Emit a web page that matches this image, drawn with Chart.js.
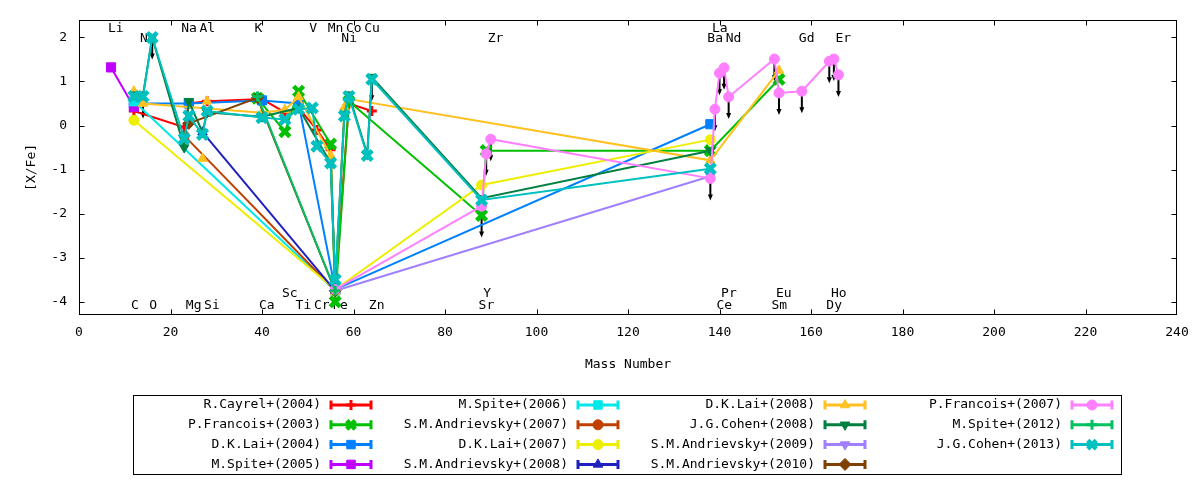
<!DOCTYPE html>
<html><head><meta charset="utf-8">
<script src="https://cdn.jsdelivr.net/npm/chart.js@4.4.0/dist/chart.umd.min.js"></script>
<style>html,body{margin:0;padding:0;background:#fff;}canvas{display:block;}</style>
</head><body>
<canvas id="c" width="1200" height="480"></canvas>
<script>
// ---- element positions (mass number) and label rows ----
const elementNames = ['Li','C','N','O','Na','Mg','Al','Si','K','Ca','Sc','Ti','V','Cr','Mn','Fe','Ni','Co','Cu','Zn','Sr','Y','Zr','Ba','La','Ce','Pr','Nd','Sm','Eu','Gd','Dy','Ho','Er'];
const elementMass  = [7,12,14,16,23,24,27,28,39,40,45,48,51,52,55,56,58,59,63,64,88,89,90,138,139,140,141,142,152,153,158,164,165,166];
const labelRow     = [0,3,1,3,0,3,0,3,0,3,2,3,0,3,0,3,1,0,0,3,3,2,1,1,0,3,2,1,3,2,1,3,2,1];
const labelRowValue = [2.20, 1.98, -3.82, -4.09];

const xTicks = [0,20,40,60,80,100,120,140,160,180,200,220,240];
const yTicks = [-4,-3,-2,-1,0,1,2];

// ---- series ----
const cayrel2004El  = ['C','Na','Mg','Si','Ca','Sc','Ti','Cr','Mn','Fe','Co','Zn'];
const cayrel2004Val = [0.33,-0.04,0.50,0.55,0.60,0.30,0.40,-0.10,-0.55,-3.72,0.50,0.33];

const francois2003El  = ['K','Sc','Ti','Mn','Fe','Co','Sr','Y','Ba','Eu'];
const francois2003Val = [0.62,-0.14,0.78,-0.42,-4.00,0.55,-2.04,-0.57,-0.57,1.05];

const lai2004El  = ['C','Mg','Ca','Ti','Fe','Ba'];
const lai2004Val = [0.50,0.50,0.57,0.50,-3.72,0.03];

const spite2005El  = ['Li','C'];
const spite2005Val = [1.32,0.42];

const spite2006El  = ['C','Fe'];
const spite2006Val = [0.55,-3.75];

const andrievsky2007El  = ['Na','Fe'];
const andrievsky2007Val = [-0.23,-3.75];

const lai2007El  = ['C','Fe','Sr','Ba'];
const lai2007Val = [0.12,-3.72,-1.35,-0.32];

const andrievsky2008El  = ['Al','Fe'];
const andrievsky2008Val = [-0.15,-3.75];

const lai2008El  = ['C','N','Ca','Sc','Ti','Mn','Fe','Ni','Co','Ba','Eu'];
const lai2008Val = [0.78,0.50,0.29,0.36,0.65,-0.68,-3.78,0.41,0.60,-0.79,1.25];
const lai2008ExtraEl  = ['Al','Si'];
const lai2008ExtraVal = [-0.75,0.55];

const cohen2008El  = ['C','N','O','Na','Mg','Al','Si','Ca','Ti','Mn','Fe','Ni','Co','Cu','Zn','Sr','Ba'];
const cohen2008Val = [0.70,0.70,2.00,-0.50,0.55,-0.15,0.30,0.20,0.40,-0.85,-3.60,0.25,0.70,-0.65,1.10,-1.65,-0.57];

const andrievsky2009El  = ['Fe','Ba'];
const andrievsky2009Val = [-3.75,-1.15];

const andrievsky2010El  = ['Mg','K','Fe'];
const andrievsky2010Val = [0.05,0.63,-3.75];

const francois2007El  = ['Fe','Sr','Y','Zr','Ba','La','Ce','Pr','Nd','Sm','Eu','Gd','Dy','Ho','Er'];
const francois2007Val = [-3.72,-1.83,-0.64,-0.31,-1.20,0.37,1.19,1.31,0.65,1.51,0.74,0.78,1.46,1.51,1.15];

const spite2012El  = ['K','Fe'];
const spite2012Val = [0.66,-3.75];

const cohen2013El  = ['C','N','O','Na','Mg','Al','Si','Ca','Sc','Ti','V','Cr','Mn','Fe','Ni','Co','Cu','Zn','Sr','Ba'];
const cohen2013Val = [0.66,0.66,2.00,-0.30,0.22,-0.20,0.33,0.18,0.14,0.37,0.40,-0.47,-0.85,-3.50,0.22,0.66,-0.68,1.05,-1.69,-0.98];

// upper limits (arrow start values)
const limitEl  = ['N','O','Zn','Sr','Y','Zr','Ba','La','Ce','Pr','Nd','Sm','Eu','Gd','Dy','Ho','Er'];
const limitVal = [0.66,2.00,1.05,-2.04,-0.64,-0.31,-1.20,0.37,1.19,1.31,0.65,1.51,0.74,0.78,1.46,1.51,1.15];

// ---- build ----
const massOf = {};
elementNames.forEach((n,i)=>{ massOf[n] = elementMass[i]; });
const pts = (els, vals) => els.map((e,i)=>({x: massOf[e], y: vals[i]}));

const seriesDefs = [
  ['R.Cayrel+(2004)', cayrel2004El, cayrel2004Val, '#ff0000', 'cross', 0],
  ['P.Francois+(2003)', francois2003El, francois2003Val, '#00c000', 'crossRot', 0],
  ['D.K.Lai+(2004)', lai2004El, lai2004Val, '#0080ff', 'rect', 0],
  ['M.Spite+(2005)', spite2005El, spite2005Val, '#c000ff', 'rect', 0],
  ['M.Spite+(2006)', spite2006El, spite2006Val, '#00e8e8', 'rect', 0],
  ['S.M.Andrievsky+(2007)', andrievsky2007El, andrievsky2007Val, '#c04000', 'circle', 0],
  ['D.K.Lai+(2007)', lai2007El, lai2007Val, '#eeee00', 'circle', 0],
  ['S.M.Andrievsky+(2008)', andrievsky2008El, andrievsky2008Val, '#2020c0', 'triangle', 0],
  ['D.K.Lai+(2008)', lai2008El, lai2008Val, '#ffc020', 'triangle', 0],
  ['J.G.Cohen+(2008)', cohen2008El, cohen2008Val, '#008040', 'triangle', 180],
  ['S.M.Andrievsky+(2009)', andrievsky2009El, andrievsky2009Val, '#a080ff', 'triangle', 180],
  ['S.M.Andrievsky+(2010)', andrievsky2010El, andrievsky2010Val, '#804000', 'rectRot', 0],
  ['P.Francois+(2007)', francois2007El, francois2007Val, '#ff80ff', 'circle', 0],
  ['M.Spite+(2012)', spite2012El, spite2012Val, '#00c060', 'cross', 0],
  ['J.G.Cohen+(2013)', cohen2013El, cohen2013Val, '#00c0c0', 'crossRot', 0]
];

const markerRadius = {cross: 5, crossRot: 7, rect: 6.5, circle: 5, triangle: 5.5, rectRot: 6};
const markerBorder = {cross: 3, crossRot: 4.5, rect: 1, circle: 1, triangle: 1, rectRot: 1};

const datasets = [];
seriesDefs.forEach(d => {
  datasets.push({
    label: d[0], data: pts(d[1], d[2]), showLine: true, tension: 0,
    borderColor: d[3], backgroundColor: d[3], borderWidth: 2,
    pointStyle: d[4], pointRotation: d[5], pointRadius: markerRadius[d[4]],
    pointBorderWidth: markerBorder[d[4]], pointBackgroundColor: d[3], pointBorderColor: d[3],
    pointHoverRadius: 0
  });
  if (d[0] === 'D.K.Lai+(2008)') {
    datasets.push({
      label: 'D.K.Lai+(2008)', hideInLegend: true, data: pts(lai2008ExtraEl, lai2008ExtraVal), showLine: false,
      borderColor: d[3], backgroundColor: d[3], pointStyle: d[4], pointRadius: markerRadius[d[4]], pointBorderWidth: 1,
      pointBackgroundColor: d[3], pointBorderColor: d[3]
    });
  }
});
datasets.forEach((ds,i)=>{ ds.order = datasets.length - i; });

const FONT = '13px "DejaVu Sans Mono"';
const ARROW_LEN = 0.5;

const framePlugin = {
  id: 'frame',
  beforeDatasetsDraw(chart) {
    const {ctx, chartArea: a, scales: {x, y}} = chart;
    const L = Math.round(a.left)+0.5, R = Math.round(a.right)-0.5, T = Math.round(a.top)+0.5, B = Math.round(a.bottom)-0.5;
    ctx.save();
    ctx.strokeStyle = '#000'; ctx.lineWidth = 1;
    ctx.strokeRect(L, T, R-L, B-T);
    ctx.beginPath();
    xTicks.forEach(v => { const p = Math.min(R, Math.round(x.getPixelForValue(v))+0.5);
      ctx.moveTo(p, B); ctx.lineTo(p, B-5); ctx.moveTo(p, T); ctx.lineTo(p, T+5); });
    yTicks.forEach(v => { const p = Math.round(y.getPixelForValue(v))+0.5;
      ctx.moveTo(L, p); ctx.lineTo(L+5, p); ctx.moveTo(R, p); ctx.lineTo(R-5, p); });
    ctx.stroke();
    // element labels
    ctx.font = FONT; ctx.fillStyle = '#000'; ctx.textAlign = 'left'; ctx.textBaseline = 'middle';
    elementNames.forEach((n,i) => {
      ctx.fillText(n, x.getPixelForValue(elementMass[i]) - 3, y.getPixelForValue(labelRowValue[labelRow[i]]));
    });
    // upper-limit arrows
    ctx.strokeStyle = '#000'; ctx.fillStyle = '#000'; ctx.lineWidth = 2;
    limitEl.forEach((e,i) => {
      const px = x.getPixelForValue(massOf[e]);
      const p0 = y.getPixelForValue(limitVal[i]);
      const p1 = y.getPixelForValue(limitVal[i] - ARROW_LEN);
      ctx.beginPath(); ctx.moveTo(px, p0); ctx.lineTo(px, p1 - 4); ctx.stroke();
      ctx.beginPath(); ctx.moveTo(px - 2.5, p1 - 6); ctx.lineTo(px + 2.5, p1 - 6); ctx.lineTo(px, p1); ctx.closePath(); ctx.fill();
    });
    ctx.restore();
  }
};

const legendPlugin = {
  id: 'boxLegend',
  afterDraw(chart) {
    const ctx = chart.ctx;
    ctx.save();
    ctx.strokeStyle = '#000'; ctx.lineWidth = 1;
    ctx.strokeRect(133.5, 395.5, 988, 79);
    ctx.font = FONT; ctx.textAlign = 'right'; ctx.textBaseline = 'middle';
    let k = 0;
    chart.data.datasets.forEach(ds => {
      if (ds.hideInLegend) return;
      const col = Math.floor(k / 4), row = k % 4; k++;
      const tx = 321 + col * 247, ty = 405 + row * 19.8;
      ctx.fillStyle = '#000';
      ctx.fillText(ds.label, tx, ty);
      const x0 = tx + 9, x1 = tx + 51;
      ctx.strokeStyle = ds.borderColor; ctx.lineWidth = 3;
      ctx.beginPath();
      ctx.moveTo(x0, ty); ctx.lineTo(x1, ty);
      ctx.moveTo(x0 + 1, ty - 4.5); ctx.lineTo(x0 + 1, ty + 4.5);
      ctx.moveTo(x1 - 1, ty - 4.5); ctx.lineTo(x1 - 1, ty + 4.5);
      ctx.stroke();
      ctx.fillStyle = ds.backgroundColor; ctx.lineWidth = ds.pointBorderWidth;
      const r = Math.min(ds.pointRadius, 6);
      if (Chart.helpers && Chart.helpers.drawPoint) {
        Chart.helpers.drawPoint(ctx, {pointStyle: ds.pointStyle, radius: r, rotation: ds.pointRotation || 0, borderWidth: ds.pointBorderWidth}, (x0 + x1) / 2, ty);
      } else {
        ctx.beginPath(); ctx.arc((x0+x1)/2, ty, 4.5, 0, Math.PI*2); ctx.fill();
      }
    });
    ctx.restore();
  }
};

const tickFont = {family: 'DejaVu Sans Mono', size: 13};
new Chart(document.getElementById('c'), {
  type: 'scatter',
  data: {datasets},
  options: {
    responsive: false, animation: false, devicePixelRatio: 1,
    layout: {padding: {left: 0, right: 23, top: 16, bottom: 105}},
    plugins: {legend: {display: false}, tooltip: {enabled: false}},
    events: [],
    scales: {
      x: {
        type: 'linear', min: 0, max: 240,
        afterBuildTicks: s => { s.ticks = xTicks.map(v => ({value: v})); },
        afterFit: s => { s.height = 60; },
        grid: {display: false, drawTicks: false}, border: {display: false},
        ticks: {padding: 10, font: tickFont, color: '#000', maxRotation: 0, autoSkip: false},
        title: {display: true, text: 'Mass Number', font: tickFont, color: '#000', padding: {top: 0, bottom: 3}}
      },
      y: {
        type: 'linear', min: -4.3, max: 2.4,
        afterBuildTicks: s => { s.ticks = yTicks.map(v => ({value: v})); },
        afterFit: s => { s.width = 79; },
        grid: {display: false, drawTicks: false}, border: {display: false},
        ticks: {padding: 12, font: tickFont, color: '#000', autoSkip: false},
        title: {display: true, text: '[X/Fe]', font: tickFont, color: '#000', padding: {top: 24, bottom: 0}}
      }
    }
  },
  plugins: [framePlugin, legendPlugin]
});
</script>
</body></html>
